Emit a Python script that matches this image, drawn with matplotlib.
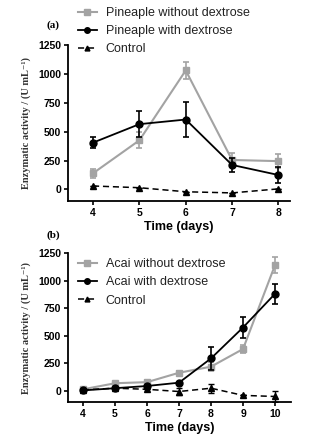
import matplotlib
matplotlib.use("Agg")
import matplotlib.pyplot as plt
from matplotlib.lines import Line2D

# Panel (a) data
days_a = [4, 5, 6, 7, 8]
pine_without = [140, 425, 1030, 255, 245]
pine_without_err = [40, 70, 75, 60, 60]
pine_with = [405, 565, 605, 212, 125]
pine_with_err = [50, 110, 150, 60, 70]
control_a = [30, 15, -20, -30, 5]
control_a_err = [0, 0, 0, 0, 0]

# Panel (b) data
days_b = [4, 5, 6, 7, 8, 9, 10]
acai_without = [15, 70, 80, 165, 220, 380, 1140]
acai_without_err = [10, 15, 15, 15, 40, 40, 70]
acai_with = [5, 25, 45, 75, 295, 575, 880]
acai_with_err = [5, 10, 10, 10, 105, 95, 90]
control_b = [10, 25, 15, -5, 25, -40, -50]
control_b_err = [0, 0, 0, 30, 40, 0, 50]

yticks = [0, 250, 500, 750, 1000, 1250]

GRAY = "#a3a3a3"
SANS = ["Liberation Sans", "DejaVu Sans"]
SERIF = ["Liberation Serif", "DejaVu Serif"]
DASH = (0, (4, 2.5))

fig = plt.figure(figsize=(3.11, 4.45), dpi=100)
ax1 = fig.add_axes([68/311, 1-201/445, 222/311, 156/445])
ax2 = fig.add_axes([68/311, 1-402/445, 223/311, 149/445])


def draw(ax, x, s1, e1, s2, e2, c, ce, xlim, xticks):
    ax.errorbar(x, s1, yerr=e1, color=GRAY, marker="s", ms=5, lw=1.5,
                capsize=2.5, elinewidth=1.2, capthick=1.2, zorder=3)
    ax.errorbar(x, s2, yerr=e2, color="black", marker="o", ms=5, lw=1.3,
                capsize=2.5, elinewidth=1.2, capthick=1.2, zorder=4)
    ax.errorbar(x, c, yerr=ce, color="black", marker="^", ms=4, lw=1.1, ls=DASH,
                capsize=2.5, elinewidth=1.0, capthick=1.0, zorder=4)
    ax.set_xlim(*xlim)
    ax.set_ylim(-100, 1250)
    ax.set_xticks(xticks)
    ax.set_yticks(yticks)
    for s in ["top", "right"]:
        ax.spines[s].set_visible(False)
    for s in ["left", "bottom"]:
        ax.spines[s].set_linewidth(1.3)
    ax.tick_params(width=1.2, length=3, labelsize=7.5, pad=2)
    for lab in ax.get_xticklabels() + ax.get_yticklabels():
        lab.set_fontfamily(SANS)
        lab.set_fontweight("bold")
    ax.set_xlabel("Time (days)", fontsize=9, fontweight="bold", family=SANS, labelpad=2)
    ax.set_ylabel("Enzymatic activity / (U mL\u207b\u00b9)", fontsize=7.5, fontweight="bold",
                  family=SERIF, color="#333333", labelpad=5)


draw(ax1, days_a, pine_without, pine_without_err, pine_with, pine_with_err,
     control_a, control_a_err, (3.46, 8.25), days_a)
draw(ax2, days_b, acai_without, acai_without_err, acai_with, acai_with_err,
     control_b, control_b_err, (3.53, 10.5), days_b)

labels_a = ["Pineaple without dextrose", "Pineaple with dextrose", "Control"]
labels_b = ["Acai without dextrose", "Acai with dextrose", "Control"]

for ax, top, labels in [(ax1, 7, labels_a), (ax2, 258, labels_b)]:
    handles = [
        Line2D([], [], color=GRAY, marker="s", ms=4, lw=1.5),
        Line2D([], [], color="black", marker="o", ms=4, lw=1.3),
        Line2D([], [], color="black", marker="^", ms=3.5, lw=1.1, ls=DASH),
    ]
    leg = ax.legend(handles, labels, loc="upper left", bbox_to_anchor=(78/311, 1-top/445),
                    bbox_transform=fig.transFigure, frameon=False, borderpad=0,
                    borderaxespad=0, handlelength=1.5, handletextpad=0.7,
                    labelspacing=0.5, prop={"family": SANS, "size": 9})
    for t in leg.get_texts():
        t.set_color("#222222")

fig.text(53/311, 1-25/445, "(a)", fontsize=8, fontweight="bold", family=SERIF,
         ha="center", va="center")
fig.text(53/311, 1-235/445, "(b)", fontsize=8, fontweight="bold", family=SERIF,
         ha="center", va="center")

fig.savefig("out.png", dpi=100)
